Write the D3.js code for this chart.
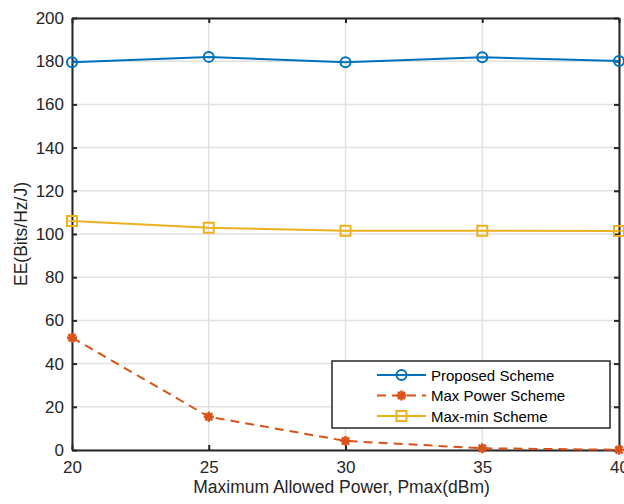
<!DOCTYPE html>
<html>
<head>
<meta charset="utf-8">
<script src="https://cdn.jsdelivr.net/npm/d3@7"></script>
<style>
  body { margin: 0; background: #fff; }
  svg { font-family: "Liberation Sans", Arial, sans-serif; }
</style>
</head>
<body>
<svg width="624" height="504"></svg>
<script>
// data
const power = [20, 25, 30, 35, 40];
const proposed = [179.5, 182, 179.5, 181.8, 180.1];
const maxPower = [52, 15.4, 4.2, 0.8, 0.1];
const maxMin = [106, 102.9, 101.5, 101.5, 101.4];
const xTicks = [20, 25, 30, 35, 40];
const yTicks = [0, 20, 40, 60, 80, 100, 120, 140, 160, 180, 200];

const series = [
  { name: "Proposed Scheme", values: proposed, color: "#0072BD", marker: "circle", dash: null },
  { name: "Max Power Scheme", values: maxPower, color: "#D95319", marker: "star", dash: "9,6" },
  { name: "Max-min Scheme", values: maxMin, color: "#EDB120", marker: "square", dash: null }
];

// chart dimensions
const margin = { top: 18, right: 5, bottom: 54, left: 72 };
const width = 624 - margin.left - margin.right;
const height = 504 - margin.top - margin.bottom;

const x = d3.scaleLinear().domain([20, 40]).range([0, width]);
const y = d3.scaleLinear().domain([0, 200]).range([height, 0]);

const svg = d3.select("svg")
  .append("g")
  .attr("transform", "translate(" + margin.left + "," + margin.top + ")");

// grid
svg.append("g")
  .selectAll("line")
  .data(xTicks)
  .join("line")
  .attr("x1", d => x(d)).attr("x2", d => x(d))
  .attr("y1", 0).attr("y2", height)
  .attr("stroke", "#e2e2e2").attr("stroke-width", 1.5);
svg.append("g")
  .selectAll("line")
  .data(yTicks)
  .join("line")
  .attr("x1", 0).attr("x2", width)
  .attr("y1", d => y(d)).attr("y2", d => y(d))
  .attr("stroke", "#e2e2e2").attr("stroke-width", 1.5);

// axes (inward ticks, matlab style)
const axisColor = "#262626";
const bottomAxis = svg.append("g")
  .attr("transform", "translate(0," + height + ")")
  .call(d3.axisBottom(x).tickValues(xTicks).tickSizeInner(-5).tickSizeOuter(0).tickPadding(11));
const leftAxis = svg.append("g")
  .call(d3.axisLeft(y).tickValues(yTicks).tickSizeInner(-5).tickSizeOuter(0).tickPadding(8));
const topAxis = svg.append("g")
  .call(d3.axisTop(x).tickValues(xTicks).tickSizeInner(-5).tickSizeOuter(0).tickFormat(""));
const rightAxis = svg.append("g")
  .attr("transform", "translate(" + width + ",0)")
  .call(d3.axisRight(y).tickValues(yTicks).tickSizeInner(-5).tickSizeOuter(0).tickFormat(""));

[bottomAxis, leftAxis, topAxis, rightAxis].forEach(a => {
  a.select(".domain").attr("stroke", axisColor).attr("stroke-width", 2);
  a.selectAll(".tick line").attr("stroke", axisColor).attr("stroke-width", 2);
  a.selectAll(".tick text")
    .attr("fill", axisColor)
    .style("font-size", "17px")
    .style("font-family", "Liberation Sans, Arial, sans-serif");
});

// markers
function drawMarker(g, type, color) {
  if (type === "circle") {
    g.append("circle").attr("r", 5)
      .attr("fill", "none").attr("stroke", color).attr("stroke-width", 2);
  } else if (type === "square") {
    g.append("rect").attr("x", -5).attr("y", -5).attr("width", 10).attr("height", 10)
      .attr("fill", "none").attr("stroke", color).attr("stroke-width", 2);
    g.append("line").attr("x1", -4).attr("x2", 4).attr("y1", 0).attr("y2", 0)
      .attr("stroke", color).attr("stroke-width", 1.2);
  } else {
    [0, 45, 90, 135].forEach(a => {
      g.append("line").attr("x1", -5).attr("x2", 5).attr("y1", 0).attr("y2", 0)
        .attr("transform", "rotate(" + a + ")")
        .attr("stroke", color).attr("stroke-width", 2.6);
    });
  }
}

const line = d3.line()
  .x((d, i) => x(power[i]))
  .y(d => y(d));

series.forEach(s => {
  svg.append("path")
    .datum(s.values)
    .attr("d", line)
    .attr("fill", "none")
    .attr("stroke", s.color)
    .attr("stroke-width", 2)
    .attr("stroke-dasharray", s.dash);
  s.values.forEach((v, i) => {
    const g = svg.append("g")
      .attr("transform", "translate(" + x(power[i]) + "," + y(v) + ")");
    drawMarker(g, s.marker, s.color);
  });
});

// legend
const legend = svg.append("g")
  .attr("transform", "translate(" + (x(40) - 287) + "," + (y(0) - 89) + ")");
legend.append("rect")
  .attr("width", 278).attr("height", 67)
  .attr("fill", "#fff").attr("stroke", axisColor).attr("stroke-width", 1.5);
series.forEach((s, i) => {
  const row = legend.append("g").attr("transform", "translate(0," + (14 + i * 20.5) + ")");
  row.append("line")
    .attr("x1", 45).attr("x2", 94).attr("y1", 0).attr("y2", 0)
    .attr("stroke", s.color).attr("stroke-width", 2)
    .attr("stroke-dasharray", s.dash ? "9,6" : null);
  const m = row.append("g").attr("transform", "translate(69.5,0)");
  drawMarker(m, s.marker, s.color);
  row.append("text")
    .attr("x", 99).attr("y", 5.5)
    .attr("fill", "#000")
    .style("font-size", "15px")
    .text(s.name);
});

// axis labels
svg.append("text")
  .attr("x", width / 2 - 4).attr("y", height + 43)
  .attr("text-anchor", "middle")
  .attr("fill", axisColor)
  .style("font-size", "17.5px")
  .text("Maximum Allowed Power, Pmax(dBm)");
svg.append("text")
  .attr("transform", "rotate(-90)")
  .attr("x", -height / 2).attr("y", -45)
  .attr("text-anchor", "middle")
  .attr("fill", axisColor)
  .style("font-size", "17.5px")
  .text("EE(Bits/Hz/J)");
</script>
</body>
</html>
